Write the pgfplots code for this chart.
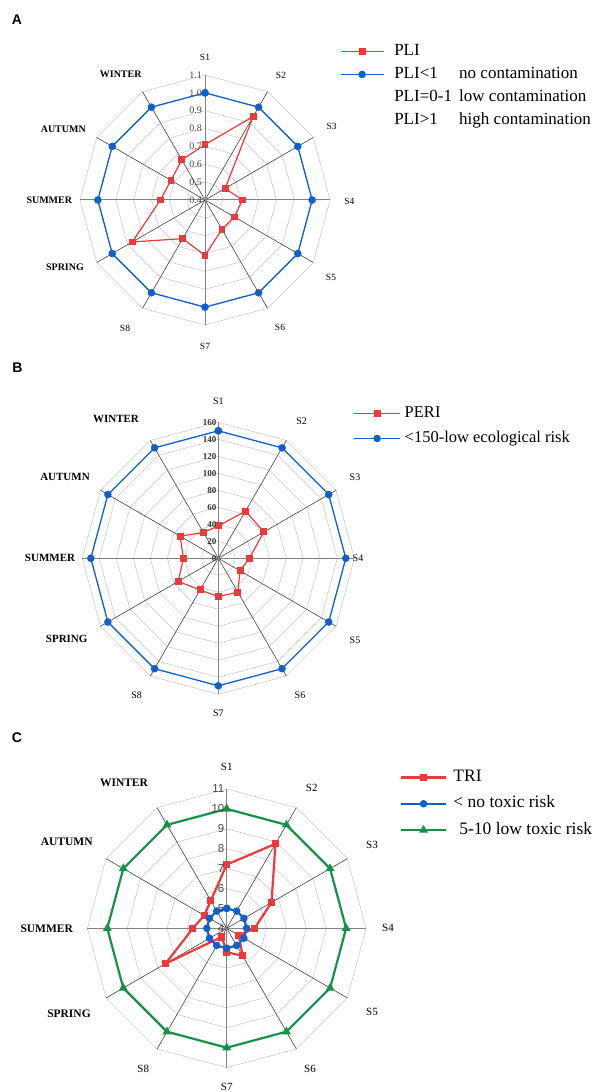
\documentclass[border=0pt]{standalone}
\usepackage{fontspec}
\setmainfont{Liberation Serif}
\newfontfamily\arialf{Liberation Sans}
\usepackage{pgfplots}
\usepackage{pgfplotstable}
\pgfplotsset{compat=1.18}

\definecolor{rred}{RGB}{236,58,58}
\definecolor{rblue}{RGB}{16,96,204}
\definecolor{rgreen}{RGB}{22,146,72}
\definecolor{ringc}{RGB}{196,196,196}
\definecolor{spokeD}{RGB}{64,64,64}
\definecolor{spokeL}{RGB}{130,130,130}

\pgfplotstableread{
ang d
0 1
30 1
60 1
90 1
120 1
150 1
180 1
210 1
240 1
270 1
300 1
330 1
360 1
}\angles

% Panel A: PLI
\pgfplotstableread{
ang val
0 0.71
30 0.94
60 0.53
90 0.61
120 0.59
150 0.59
180 0.71
210 0.65
240 0.87
270 0.65
300 0.62
330 0.66
360 0.71
}\pliA
\pgfplotstableread{
ang val
0 1.0
30 1.0
60 1.0
90 1.0
120 1.0
150 1.0
180 1.0
210 1.0
240 1.0
270 1.0
300 1.0
330 1.0
360 1.0
}\pliB

% Panel B: PERI
\pgfplotstableread{
ang val
0 38
30 64
60 62
90 36.5
120 29.5
150 46
180 45
210 43
240 54.5
270 41
300 52
330 35
360 38
}\periA
\pgfplotstableread{
ang val
0 150
30 150
60 150
90 150
120 150
150 150
180 150
210 150
240 150
270 150
300 150
330 150
360 150
}\periB

% Panel C: TRI
\pgfplotstableread{
ang val
0 7.2
30 8.9
60 6.6
90 5.4
120 4.7
150 5.6
180 5.2
210 4.5
240 7.55
270 5.7
300 5.3
330 5.6
360 7.2
}\triA
\pgfplotstableread{
ang val
0 5
30 5
60 5
90 5
120 5
150 5
180 5
210 5
240 5
270 5
300 5
330 5
360 5
}\triB
\pgfplotstableread{
ang val
0 10
30 10
60 10
90 10
120 10
150 10
180 10
210 10
240 10
270 10
300 10
330 10
360 10
}\triC

\pgfplotsset{
  radar/.style={axis lines=none, scale only axis, clip=false, anchor=center,
    xmin=-#1, xmax=#1, ymin=-#1, ymax=#1, xtick=\empty, ytick=\empty,
    legend cell align=left},
}

% #1 step, #2 count, #3 outer radius
\newcommand{\radargrid}[3]{%
  \pgfplotsinvokeforeach{1,...,#2}{%
    \addplot[ringc, line width=0.5pt, forget plot, no markers]
      table[x expr={##1*#1*sin(\thisrow{ang})}, y expr={##1*#1*cos(\thisrow{ang})}]{\angles};}
  \pgfplotsinvokeforeach{30,60,120,150,210,240,300,330}{%
    \draw[spokeD, line width=0.6pt] (axis cs:0,0) -- (axis cs:{#3*sin(##1)},{#3*cos(##1)});}
  \draw[spokeL, line width=1pt] (axis cs:0,-#3) -- (axis cs:0,#3);
  \draw[spokeL, line width=1pt] (axis cs:-#3,0) -- (axis cs:#3,0);
}

\begin{document}
\begin{tikzpicture}
\useasboundingbox (0pt,0pt) rectangle (602pt,1092pt);

% ================= A =================
\begin{axis}[radar=0.7, width=250pt, height=250pt, at={(205pt,892pt)},
  legend image code/.code={\draw[mark repeat=2,mark phase=2,#1] plot coordinates {(0pt,0pt) (21.5pt,0pt) (43pt,0pt)};},
  legend style={draw=none, fill=none, inner sep=0pt, at={(1.039,1.135)}, anchor=north west,
    font=\fontsize{17}{20}\selectfont, row sep=3pt,
    nodes={inner sep=2pt, text height=12pt, text depth=4pt},
    /tikz/every odd column/.append style={column sep=8pt}}]
\radargrid{0.1}{7}{0.7}
\addplot[rred, line width=1.2pt, mark=square*, mark size=2.8pt]
  table[x expr={(\thisrow{val}-0.4)*sin(\thisrow{ang})}, y expr={(\thisrow{val}-0.4)*cos(\thisrow{ang})}]{\pliA};
\addlegendentry{PLI}
\addplot[rblue, line width=1.3pt, mark=*, mark size=3.1pt]
  table[x expr={(\thisrow{val}-0.4)*sin(\thisrow{ang})}, y expr={(\thisrow{val}-0.4)*cos(\thisrow{ang})}]{\pliB};
\addlegendentry{\makebox[65pt][l]{PLI<1}no contamination}
\addlegendimage{empty legend}
\addlegendentry{\makebox[65pt][l]{PLI=0-1}low contamination}
\addlegendimage{empty legend}
\addlegendentry{\makebox[65pt][l]{PLI>1}high contamination}
\end{axis}

% ================= B =================
\begin{axis}[radar=160, width=272pt, height=272pt, at={(218.3pt,533.7pt)},
  legend image code/.code={\draw[mark repeat=2,mark phase=2,#1] plot coordinates {(0pt,0pt) (23.35pt,0pt) (46.7pt,0pt)};},
  legend style={draw=none, fill=none, inner sep=0pt, at={(0.995,1.069)}, anchor=north west,
    font=\fontsize{16.5}{19}\selectfont, row sep=5.5pt,
    nodes={inner sep=2pt, text height=11.5pt, text depth=4pt},
    /tikz/every odd column/.append style={column sep=1.6pt}}]
\radargrid{20}{8}{160}
\addplot[rred, line width=1.2pt, mark=square*, mark size=2.9pt]
  table[x expr={\thisrow{val}*sin(\thisrow{ang})}, y expr={\thisrow{val}*cos(\thisrow{ang})}]{\periA};
\addlegendentry{PERI}
\addplot[rblue, line width=1.3pt, mark=*, mark size=3.1pt]
  table[x expr={\thisrow{val}*sin(\thisrow{ang})}, y expr={\thisrow{val}*cos(\thisrow{ang})}]{\periB};
\addlegendentry{<150-low ecological risk}
\end{axis}

% ================= C =================
\begin{axis}[radar=7, width=278.6pt, height=278.6pt, at={(226.7pt,163.7pt)},
  legend image code/.code={\draw[mark repeat=2,mark phase=2,#1] plot coordinates {(0pt,0pt) (22.5pt,0pt) (45pt,0pt)};},
  legend style={draw=none, fill=none, inner sep=0pt, at={(1.121,1.078)}, anchor=north west,
    font=\fontsize{17.5}{20}\selectfont, row sep=6.3pt,
    nodes={inner sep=2pt, text height=12pt, text depth=4pt},
    /tikz/every odd column/.append style={column sep=4.3pt}}]
\radargrid{1}{7}{7}
\addplot[rred, line width=2.2pt, mark=square*, mark size=2.5pt]
  table[x expr={(\thisrow{val}-4)*sin(\thisrow{ang})}, y expr={(\thisrow{val}-4)*cos(\thisrow{ang})}]{\triA};
\addlegendentry{TRI}
\addplot[rblue, line width=2.2pt, mark=*, mark size=2.6pt]
  table[x expr={(\thisrow{val}-4)*sin(\thisrow{ang})}, y expr={(\thisrow{val}-4)*cos(\thisrow{ang})}]{\triB};
\addlegendentry{< no toxic risk}
\addplot[rgreen, line width=2.2pt, mark=triangle*, mark size=3pt]
  table[x expr={(\thisrow{val}-4)*sin(\thisrow{ang})}, y expr={(\thisrow{val}-4)*cos(\thisrow{ang})}]{\triC};
\addlegendentry{\hspace{6pt}5-10 low toxic risk}
\end{axis}

% ---------- panel letters ----------
\node[font=\arialf\bfseries\fontsize{14}{16}\selectfont] at (17pt,1072pt) {A};
\node[font=\arialf\bfseries\fontsize{14}{16}\selectfont] at (17.5pt,724pt) {B};
\node[font=\arialf\bfseries\fontsize{14}{16}\selectfont] at (17pt,354pt) {C};

% ---------- A labels ----------
\begin{scope}[every node/.style={font=\fontsize{9.5}{11}\selectfont, inner sep=0pt}]
\node at (205pt,1035pt) {S1};
\node at (281pt,1017pt) {S2};
\node at (331.7pt,965.3pt) {S3};
\node at (349.3pt,890.3pt) {S4};
\node at (331pt,814.3pt) {S5};
\node at (280pt,764.3pt) {S6};
\node at (205pt,746pt) {S7};
\node at (125pt,763.7pt) {S8};
\end{scope}
\begin{scope}[every node/.style={font=\bfseries\fontsize{10}{12}\selectfont, inner sep=0pt}]
\node at (65pt,824.3pt) {SPRING};
\node at (49.3pt,892pt) {SUMMER};
\node at (63.3pt,962.7pt) {AUTUMN};
\node at (120.7pt,1018pt) {WINTER};
\end{scope}
\begin{scope}[every node/.style={font=\fontsize{10}{11}\selectfont, text=black!72, inner sep=0pt, anchor=east}]
\node at (202pt,892pt) {0.4};
\node at (202pt,909.86pt) {0.5};
\node at (202pt,927.71pt) {0.6};
\node at (202pt,945.57pt) {0.7};
\node at (202pt,963.43pt) {0.8};
\node at (202pt,981.29pt) {0.9};
\node at (202pt,999.14pt) {1.0};
\node at (202pt,1017pt) {1.1};
\end{scope}

% ---------- B labels ----------
\begin{scope}[every node/.style={font=\fontsize{10}{12}\selectfont, inner sep=0pt}]
\node at (218.3pt,690.3pt) {S1};
\node at (301.7pt,670.3pt) {S2};
\node at (355pt,615pt) {S3};
\node at (358pt,533.7pt) {S4};
\node at (355pt,452pt) {S5};
\node at (300pt,397pt) {S6};
\node at (218.3pt,378.7pt) {S7};
\node at (136.7pt,397pt) {S8};
\end{scope}
\begin{scope}[every node/.style={font=\bfseries\fontsize{11}{13}\selectfont, inner sep=0pt}]
\node at (66.7pt,452.7pt) {SPRING};
\node at (50pt,533.7pt) {SUMMER};
\node at (65pt,614.7pt) {AUTUMN};
\node at (116pt,672.7pt) {WINTER};
\end{scope}
\begin{scope}[every node/.style={font=\bfseries\fontsize{9}{10}\selectfont, text=black!80, inner sep=0pt, anchor=east}]
\node at (216.5pt,533.7pt) {0};
\node at (216.5pt,550.7pt) {20};
\node at (216.5pt,567.7pt) {40};
\node at (216.5pt,584.7pt) {60};
\node at (216.5pt,601.7pt) {80};
\node at (216.5pt,618.7pt) {100};
\node at (216.5pt,635.7pt) {120};
\node at (216.5pt,652.7pt) {140};
\node at (216.5pt,669.7pt) {160};
\end{scope}

% ---------- C labels ----------
\begin{scope}[every node/.style={font=\fontsize{11}{13}\selectfont, inner sep=0pt}]
\node at (226.7pt,324.7pt) {S1};
\node at (311.7pt,303.7pt) {S2};
\node at (372pt,247pt) {S3};
\node at (388pt,163.7pt) {S4};
\node at (372pt,80pt) {S5};
\node at (310pt,22.7pt) {S6};
\node at (226.7pt,5pt) {S7};
\node at (143.3pt,22.7pt) {S8};
\end{scope}
\begin{scope}[every node/.style={font=\bfseries\fontsize{11.5}{13}\selectfont, inner sep=0pt}]
\node at (69pt,78.7pt) {SPRING};
\node at (46.7pt,163.7pt) {SUMMER};
\node at (66.7pt,250.3pt) {AUTUMN};
\node at (124pt,308.7pt) {WINTER};
\end{scope}
\begin{scope}[every node/.style={font=\arialf\fontsize{11.5}{13}\selectfont, text=black!72, inner sep=0pt, anchor=east}]
\node at (224.5pt,163.7pt) {4};
\node at (224.5pt,183.6pt) {5};
\node at (224.5pt,203.5pt) {6};
\node at (224.5pt,223.4pt) {7};
\node at (224.5pt,243.3pt) {8};
\node at (224.5pt,263.2pt) {9};
\node at (224.5pt,283.1pt) {10};
\node at (224.5pt,303pt) {11};
\end{scope}
\end{tikzpicture}
\end{document}
